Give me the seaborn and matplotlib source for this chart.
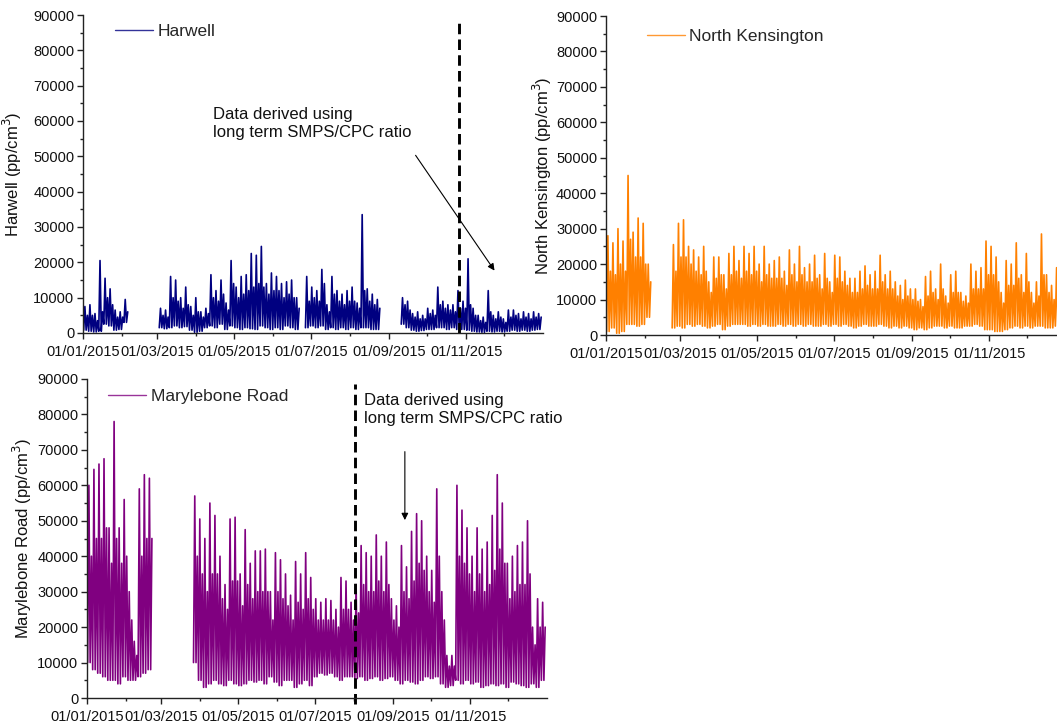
import numpy as np
import pandas as pd
import seaborn as sns
import matplotlib.pyplot as plt
import matplotlib.dates as mdates
from matplotlib.ticker import MultipleLocator
from matplotlib.lines import Line2D

nan = np.nan
start = pd.Timestamp("2015-01-01")
bin_days = 4  # values per 4-day bin, bins start on day 0, 4, ..., 360

# --- values (pp/cm3), per 4-day bin ---
# high = tallest spike, typ = top of the dense band, low = bottom of the band
harwell_high = [7500, 8000, 5500, 20500, 15500, 12500, 6500, 6000, 9500,
                nan, nan, nan, nan, nan, nan,
                7000, 6500, 16000, 15000, 10000, 13000, 7500, 10000, 6000, 7000,
                16500, 12000, 15000, 8500, 20500, 13000, 16000, 16500, 22500, 22000,
                24500, 14000, 17000, 16000, 14000, 14500, 15000, 10000, nan, 16000,
                13000, 12000, 18000, 8000, 16000, 12000, 11000, 12000, 13000, 8500,
                33500, 12500, 11000, 9500, nan, nan, nan, nan, 10000, 9000,
                5500, 6000, 5000, 7000, 6500, 13000, 9000, 8000, 8000, 12000,
                9000, 21000, 7000, 5000, 4500, 12000, 5000, 6000, 4000, 6500,
                6500, 5500, 6000, 5500, 6000, 5500]
harwell_typ = [5000, 5000, 3500, 6000, 10000, 8000, 4500, 4500, 6000,
               nan, nan, nan, nan, nan, nan,
               5000, 4500, 10000, 9000, 7000, 8000, 5000, 6000, 4500, 5500,
               10000, 9000, 11000, 6500, 14000, 10000, 11000, 12000, 13000, 14000,
               13000, 11000, 12000, 12000, 10000, 11000, 10000, 7000, nan, 9000,
               10000, 9000, 14000, 6000, 11000, 9000, 8000, 9000, 9000, 7000,
               12000, 9000, 8000, 7000, nan, nan, nan, nan, 8000, 6500,
               4500, 4000, 4000, 5500, 5000, 8000, 7000, 6500, 6000, 7000,
               7000, 8000, 5000, 3500, 3000, 6000, 4000, 4500, 3000, 4500,
               5000, 4000, 4500, 4000, 4500, 4500]
harwell_low = [800, 500, 300, 500, 2500, 2000, 800, 1000, 3000,
               nan, nan, nan, nan, nan, nan,
               1500, 1200, 1500, 2000, 1500, 1800, 800, 200, 500, 1500,
               2000, 1500, 2500, 1000, 2000, 1500, 1000, 1500, 1200, 1000,
               2000, 1500, 1000, 1500, 1000, 2000, 1500, 1000, nan, 1500,
               2000, 1500, 2000, 1000, 1500, 1000, 1500, 1000, 1500, 1000,
               1500, 1500, 1000, 1000, nan, nan, nan, nan, 2500, 1500,
               800, 500, 700, 1000, 1000, 1500, 1500, 1000, 1500, 1000,
               1000, 800, 500, 300, 200, 500, 300, 500, 300, 500,
               800, 500, 800, 500, 800, 1000]

kensington_high = [28000, 26000, 30000, 26500, 45000, 29000, 33000, 31500, 20000,
                   nan, nan, nan, nan,
                   25500, 31500, 32500, 25000, 24000, 22000, 25000, 15000, 22000, 22000,
                   17000, 23000, 25000, 21000, 25000, 23000, 25000, 20000, 25000, 20000,
                   21000, 22000, 18000, 24000, 20000, 25000, 19000, 20000, 22500, 17000,
                   23000, 15000, 22500, 22000, 18000, 16000, 16000, 18000, 19500, 17000,
                   18000, 22500, 17000, 18000, 15000, 14000, 15500, 13000, 13000, 10000,
                   16500, 18000, 13000, 20000, 11000, 17000, 18000, 12000, 11000, 20000,
                   18000, 19000, 26500, 25000, 22000, 12000, 21000, 20000, 26000, 17000,
                   23000, 12000, 15000, 28500, 17000, 14000, 19000, 15000]
kensington_typ = [18000, 17000, 20000, 18000, 27000, 22000, 22000, 20000, 15000,
                  nan, nan, nan, nan,
                  18000, 22000, 22000, 20000, 18000, 17000, 18000, 12000, 16000, 17000,
                  13000, 17000, 18000, 16000, 18000, 17000, 18000, 15000, 17000, 16000,
                  16000, 16000, 14000, 17000, 15000, 17000, 15000, 15000, 16000, 13000,
                  16000, 12000, 16000, 15000, 14000, 12000, 12000, 13000, 14000, 13000,
                  13000, 15000, 13000, 13000, 11000, 10000, 11000, 10000, 9500, 8000,
                  11000, 12000, 10000, 13000, 9000, 12000, 12000, 9500, 9000, 13000,
                  13000, 13000, 17000, 17000, 15000, 9000, 14000, 14000, 16000, 12000,
                  15000, 9000, 11000, 17000, 12000, 10000, 13000, 11000]
kensington_low = [1000, 2000, 500, 1000, 3000, 3000, 2500, 3000, 5000,
                  nan, nan, nan, nan,
                  2000, 2500, 2000, 3000, 2500, 3000, 2500, 2000, 2500, 3000,
                  1500, 2500, 3000, 3000, 3000, 2500, 3000, 2500, 3000, 2500,
                  2500, 3000, 2500, 3000, 2500, 3000, 2500, 3000, 2500, 2500,
                  3000, 2500, 3000, 2500, 3000, 2500, 2000, 2500, 3000, 2500,
                  2500, 3000, 2500, 2000, 2500, 2000, 2500, 2000, 1500, 2000,
                  1500, 2000, 2500, 2500, 2000, 2500, 2000, 2000, 2500, 2500,
                  3000, 2500, 1500, 1500, 1000, 1000, 1500, 2000, 2500, 2000,
                  2500, 2000, 2500, 2500, 2000, 2000, 2500, 3000]

marylebone_high = [60000, 64500, 66000, 67500, 48000, 78000, 48000, 56000, 30000,
                   16000, 59000, 63000, 62000,
                   nan, nan, nan, nan, nan, nan, nan, nan,
                   57000, 50500, 45000, 55000, 51500, 40000, 32000, 50500, 51000, 35000,
                   47500, 38000, 41500, 41500, 42000, 30000, 41000, 39000, 35000, 29000,
                   38500, 35000, 41000, 34000, 28000, 27000, 28000, 27500, 25000, 34000,
                   33000, 27000, 32000, 43000, 41000, 40000, 46000, 40000, 44000, 28000,
                   26000, 43000, 37000, 47000, 52000, 50000, 40000, 36000, 59000, 30000,
                   12000, 12000, 60000, 53000, 48000, 40000, 48000, 42000, 44000, 51500,
                   63000, 55000, 38000, 40000, 43000, 44000, 50000, 20000, 28000, 27000]
marylebone_typ = [40000, 45000, 45000, 48000, 38000, 45000, 38000, 40000, 22000,
                  12000, 40000, 45000, 45000,
                  nan, nan, nan, nan, nan, nan, nan, nan,
                  40000, 35000, 30000, 35000, 35000, 28000, 25000, 33000, 33000, 26000,
                  32000, 28000, 30000, 30000, 30000, 22000, 30000, 28000, 26000, 22000,
                  27000, 25000, 28000, 25000, 22000, 22000, 22000, 22000, 20000, 25000,
                  25000, 22000, 24000, 32000, 30000, 30000, 33000, 30000, 32000, 22000,
                  20000, 30000, 28000, 33000, 38000, 36000, 30000, 27000, 40000, 22000,
                  9000, 9000, 40000, 38000, 35000, 30000, 35000, 30000, 32000, 36000,
                  42000, 38000, 28000, 30000, 32000, 32000, 35000, 15000, 20000, 20000]
marylebone_low = [10000, 8000, 7000, 6000, 5000, 5000, 4000, 6000, 5000,
                  5000, 6000, 7000, 8000,
                  nan, nan, nan, nan, nan, nan, nan, nan,
                  10000, 5000, 3000, 4000, 5000, 4000, 3500, 5000, 4000, 3500,
                  4000, 5000, 4500, 5000, 4000, 6000, 4500, 3500, 5000, 5000,
                  3000, 4000, 5000, 3500, 6000, 7000, 6500, 7000, 6000, 5000,
                  6000, 6000, 5500, 6000, 5000, 5500, 6000, 5000, 5500, 6000,
                  5000, 4000, 5000, 4500, 4000, 5000, 6000, 5500, 6000, 4000,
                  3000, 3500, 5000, 4000, 5000, 4000, 4500, 3000, 3500, 4000,
                  3500, 4000, 3000, 4500, 4000, 3500, 3000, 4000, 3000, 5000]


def to_frame(high, typ, low):
    # each bin drawn as low -> spike -> low -> band top, so the trace stays dense
    rows = []
    seg = 0
    for i, (h, t, l) in enumerate(zip(high, typ, low)):
        if np.isnan(h):
            seg += 1
            continue
        d = i * bin_days
        rows += [(d + 0.5, l, seg), (d + 1.5, h, seg),
                 (d + 2.5, l, seg), (d + 3.5, t, seg)]
    df = pd.DataFrame(rows, columns=["day", "value", "segment"])
    df["date"] = start + pd.to_timedelta(df["day"], unit="D")
    return df


sns.set_theme(style="ticks")
plt.rcParams["font.family"] = ["Liberation Sans", "DejaVu Sans"]
plt.rcParams["axes.linewidth"] = 1.0
plt.rcParams["axes.edgecolor"] = "#222222"

fig = plt.figure(figsize=(10.57, 7.24), dpi=100)
ax_h = fig.add_axes([83 / 1057, 1 - 333 / 724, 460 / 1057, 318 / 724])
ax_k = fig.add_axes([606 / 1057, 1 - 335 / 724, 460 / 1057, 319 / 724])
ax_m = fig.add_axes([87 / 1057, 1 - 698 / 724, 460 / 1057, 319 / 724])

panels = [
    (ax_h, harwell_high, harwell_typ, harwell_low, "#000080", "Harwell",
     (0.07, 0.947), -0.128),
    (ax_k, kensington_high, kensington_typ, kensington_low, "#FF8000", "North Kensington",
     (0.089, 0.937), -0.113),
    (ax_m, marylebone_high, marylebone_typ, marylebone_low, "#800080", "Marylebone Road",
     (0.046, 0.944), -0.115),
]

for ax, hi, ty, lo, col, name, leg_pos, lab_x in panels:
    df = to_frame(hi, ty, lo)
    sns.lineplot(data=df, x="date", y="value", units="segment", estimator=None,
                 sort=False, color=col, linewidth=1.2, ax=ax)
    ax.set_xlim(start, pd.Timestamp("2015-12-31 23:00"))
    ax.set_ylim(0, 90000)
    ax.yaxis.set_major_locator(MultipleLocator(10000))
    ax.yaxis.set_minor_locator(MultipleLocator(5000))
    ax.xaxis.set_major_locator(mdates.MonthLocator(bymonth=[1, 3, 5, 7, 9, 11]))
    ax.xaxis.set_minor_locator(mdates.MonthLocator())
    ax.xaxis.set_major_formatter(mdates.DateFormatter("%d/%m/%Y"))
    ax.tick_params(which="major", length=4.3, width=1.0, labelsize=10.5, pad=2,
                   colors="#222222", labelcolor="#111111")
    ax.tick_params(axis="x", which="major", pad=4)
    ax.tick_params(which="minor", length=2.3, width=1.0, colors="#222222")
    sns.despine(ax=ax)
    ax.set_xlabel("")
    ax.set_ylabel(name + " (pp/cm$^3$)", fontsize=12, color="#111111")
    ax.yaxis.set_label_coords(lab_x, 0.5)
    handle = Line2D([], [], color=col, linewidth=1.0, alpha=0.8)
    ax.legend([handle], [name], loc="center left", bbox_to_anchor=leg_pos,
              frameon=False, fontsize=12.5, handlelength=2.2, handletextpad=0.25,
              borderpad=0, borderaxespad=0)

# dashed markers where data switch to the long-term SMPS/CPC ratio
dash = dict(color="black", linewidth=2.1, linestyle=(0, (3.6, 1.8)))
ax_h.axvline(pd.Timestamp("2015-10-26 12:00"), ymin=0, ymax=0.99, clip_on=False, **dash)
ax_m.axvline(pd.Timestamp("2015-08-01 12:00"), ymin=-0.02, ymax=0.985, clip_on=False, **dash)

note = "Data derived using\nlong term SMPS/CPC ratio"
ax_h.text(0.283, 0.659, note, transform=ax_h.transAxes, ha="left", va="center",
          fontsize=12, color="#111111", linespacing=1.25)
ax_h.annotate("", xy=(0.898, 0.189), xytext=(0.7196, 0.566),
              xycoords="axes fraction", textcoords="axes fraction",
              arrowprops=dict(arrowstyle="-|>", lw=0.8, color="black", mutation_scale=10))
ax_m.text(0.602, 0.904, note, transform=ax_m.transAxes, ha="left", va="center",
          fontsize=12, color="#111111", linespacing=1.25)
ax_m.annotate("", xy=(0.691, 0.549), xytext=(0.691, 0.781),
              xycoords="axes fraction", textcoords="axes fraction",
              arrowprops=dict(arrowstyle="-|>", lw=0.8, color="black", mutation_scale=10))

fig.savefig("out.png", dpi=100)
